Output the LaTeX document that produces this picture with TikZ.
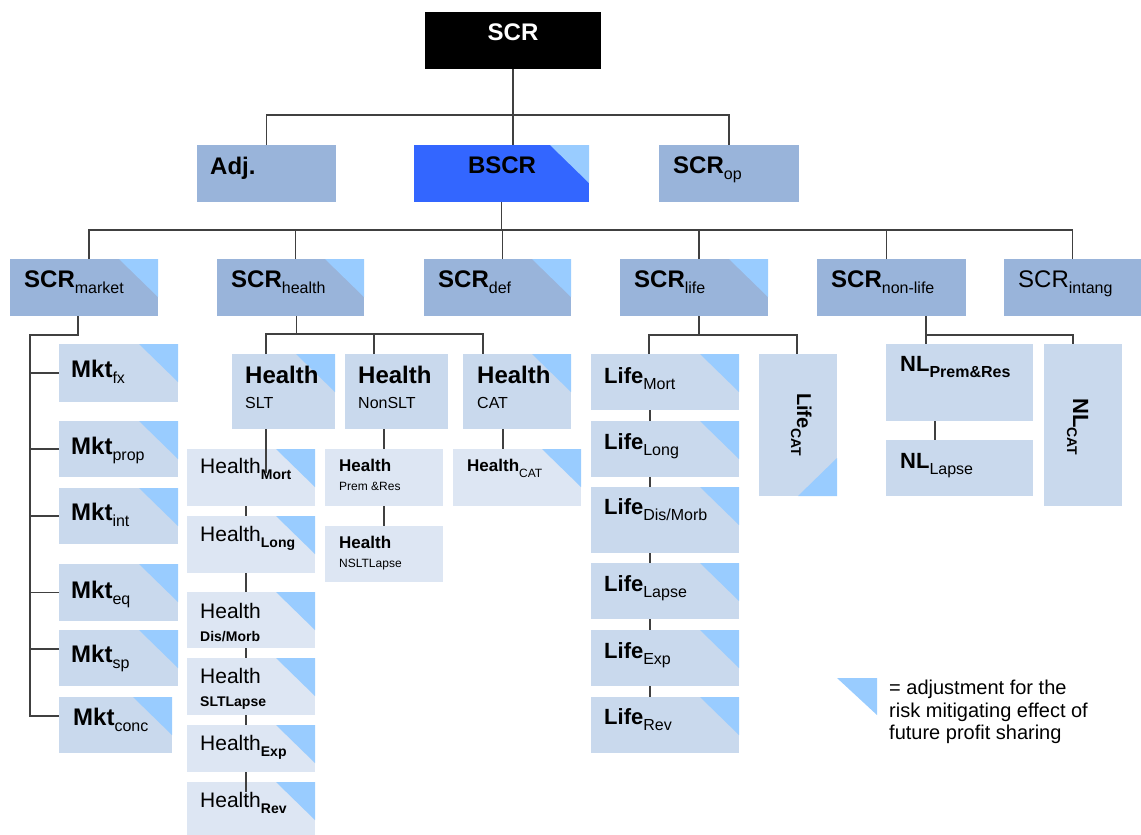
\documentclass[tikz,border=0pt]{standalone}
\usepackage{fontspec}
\setmainfont{Liberation Sans}
\definecolor{lvAcol}{HTML}{99B4DA}
\definecolor{lvBcol}{HTML}{C9D9ED}
\definecolor{lvCcol}{HTML}{DDE6F3}
\definecolor{bscrcol}{HTML}{3366FF}
\definecolor{flagcol}{HTML}{99CCFF}
\definecolor{linkcol}{HTML}{404040}
\newcommand\subt[2][16]{\raisebox{-6pt}{\fontsize{#1}{#1}\mdseries\selectfont #2}}
\begin{document}
\begin{tikzpicture}[x=1pt,y=-1pt,
  bx/.style={rectangle,inner sep=0pt,outer sep=0pt,anchor=north west},
  sz/.style 2 args={minimum width=#1pt,minimum height=#2pt},
  lvA/.style={bx,fill=lvAcol},
  lvB/.style={bx,fill=lvBcol},
  lvC/.style={bx,fill=lvCcol},
  flag/.style={path picture={\fill[flagcol] ([xshift=-39pt]path picture bounding box.north east)--(path picture bounding box.north east)--([yshift=-38pt]path picture bounding box.north east)--cycle;}},
  flagbr/.style={path picture={\fill[flagcol] ([yshift=38pt]path picture bounding box.south east)--(path picture bounding box.south east)--([xshift=-39pt]path picture bounding box.south east)--cycle;}},
  txt/.style={anchor=north west,inner sep=0pt,align=left},
  headtxt/.style={txt,font=\fontsize{24}{25}\selectfont\bfseries},
  lifetxt/.style={txt,font=\fontsize{22}{24}\selectfont\bfseries},
  leaftxt/.style={txt,font=\fontsize{21}{23}\selectfont},
  minitxt/.style={txt,font=\fontsize{17}{19}\selectfont\bfseries},
  link/.style={draw=linkcol,line width=1.3pt}]
\useasboundingbox (0,0) rectangle (1141,835);

% top
\node[bx,fill=black,sz={176}{57}] (scr) at (425,12) {};
\node[headtxt,anchor=north,text=white] (scr-t) at (513,24) {SCR};
\node[lvA,sz={139}{57}] (adj) at (197,145) {};
\node[headtxt] (adj-t) at (210,157) {Adj.};
\node[bx,fill=bscrcol,flag,sz={175}{57}] (bscr) at (414,145) {};
\node[headtxt,anchor=north] (bscr-t) at (502,157) {BSCR};
\node[lvA,sz={140}{57}] (op) at (659,145) {};
\node[headtxt] (op-t) at (673,157) {SCR\subt{op}};

% modules
\node[lvA,flag,sz={148}{57}] (market) at (10,259) {};
\node[headtxt] (market-t) at (24,271) {SCR\subt{market}};
\node[lvA,flag,sz={147}{57}] (health) at (217,259) {};
\node[headtxt] (health-t) at (231,271) {SCR\subt{health}};
\node[lvA,flag,sz={147}{57}] (def) at (424,259) {};
\node[headtxt] (def-t) at (438,271) {SCR\subt{def}};
\node[lvA,flag,sz={148}{57}] (life) at (620,259) {};
\node[headtxt] (life-t) at (634,271) {SCR\subt{life}};
\node[lvA,sz={149}{57}] (nonlife) at (817,259) {};
\node[headtxt] (nonlife-t) at (831,271) {SCR\subt{non-life}};
\node[lvA,sz={137}{57}] (intang) at (1004,259) {};
\node[headtxt,font=\fontsize{24}{25}\selectfont] (intang-t) at (1018,271) {SCR\subt{intang}};

% market
\node[lvB,flag,sz={119}{58}] (mfx) at (59,344) {};
\node[headtxt] (mfx-t) at (71,360) {Mkt\subt{fx}};
\node[lvB,flag,sz={119}{56}] (mprop) at (59,421) {};
\node[headtxt] (mprop-t) at (71,437) {Mkt\subt{prop}};
\node[lvB,flag,sz={119}{56}] (mint) at (59,488) {};
\node[headtxt] (mint-t) at (71,503) {Mkt\subt{int}};
\node[lvB,flag,sz={119}{57}] (meq) at (59,564) {};
\node[headtxt] (meq-t) at (71,581) {Mkt\subt{eq}};
\node[lvB,flag,sz={119}{56}] (msp) at (59,630) {};
\node[headtxt] (msp-t) at (71,645) {Mkt\subt{sp}};
\node[lvB,flag,sz={113}{56}] (mconc) at (59,697) {};
\node[headtxt] (mconc-t) at (73,708) {Mkt\subt{conc}};

% health
\node[lvB,flag,sz={103}{75}] (hslt) at (232,354) {};
\node[headtxt] (hslt-t) at (245,366) {Health\\{\fontsize{16}{16}\mdseries\selectfont SLT}};
\node[lvB,sz={103}{75}] (hnslt) at (345,354) {};
\node[headtxt] (hnslt-t) at (358,366) {Health\\{\fontsize{16}{16}\mdseries\selectfont NonSLT}};
\node[lvB,flag,sz={108}{75}] (hcat) at (463,354) {};
\node[headtxt] (hcat-t) at (477,366) {Health\\{\fontsize{16}{16}\mdseries\selectfont CAT}};

\node[lvC,flag,sz={128}{57}] (hmort) at (187,449) {};
\node[leaftxt] (hmort-t) at (200,458) {Health\subt[14]{\bfseries Mort}};
\node[lvC,flag,sz={128}{57}] (hlong) at (187,516) {};
\node[leaftxt] (hlong-t) at (200,526) {Health\subt[14]{\bfseries Long}};
\node[lvC,flag,sz={128}{56}] (hdis) at (187,592) {};
\node[leaftxt] (hdis-t) at (200,603) {Health\\{\fontsize{14}{14}\bfseries\selectfont Dis/Morb}};
\node[lvC,flag,sz={128}{57}] (hslap) at (187,658) {};
\node[leaftxt] (hslap-t) at (200,668) {Health\\{\fontsize{14}{14}\bfseries\selectfont SLTLapse}};
\node[lvC,flag,sz={128}{47}] (hexp) at (187,725) {};
\node[leaftxt] (hexp-t) at (200,735) {Health\subt[14]{\bfseries Exp}};
\node[lvC,flag,sz={128}{53}] (hrev) at (187,782) {};
\node[leaftxt] (hrev-t) at (200,792) {Health\subt[14]{\bfseries Rev}};

\node[lvC,sz={118}{57}] (hpr) at (325,449) {};
\node[minitxt] (hpr-t) at (339,459) {Health\\{\fontsize{12}{12}\mdseries\selectfont Prem \&Res}};
\node[lvC,sz={118}{56}] (hnl) at (325,526) {};
\node[minitxt] (hnl-t) at (339,536) {Health\\{\fontsize{12}{12}\mdseries\selectfont NSLTLapse}};
\node[lvC,flag,sz={128}{57}] (hcatc) at (453,449) {};
\node[minitxt] (hcatc-t) at (467,459) {Health\subt[12]{CAT}};

% life
\node[lvB,flag,sz={148}{56}] (lmort) at (591,354) {};
\node[lifetxt] (lmort-t) at (604,367) {Life\subt{Mort}};
\node[lvB,flag,sz={148}{56}] (llong) at (591,421) {};
\node[lifetxt] (llong-t) at (604,433) {Life\subt{Long}};
\node[lvB,flag,sz={148}{66}] (ldis) at (591,487) {};
\node[lifetxt] (ldis-t) at (604,498) {Life\subt{Dis/Morb}};
\node[lvB,flag,sz={148}{56}] (llapse) at (591,563) {};
\node[lifetxt] (llapse-t) at (604,575) {Life\subt{Lapse}};
\node[lvB,flag,sz={148}{56}] (lexp) at (591,630) {};
\node[lifetxt] (lexp-t) at (604,642) {Life\subt{Exp}};
\node[lvB,flag,sz={148}{56}] (lrev) at (591,697) {};
\node[lifetxt] (lrev-t) at (604,708) {Life\subt{Rev}};
\node[lvB,flagbr,sz={78}{142}] (lcat) at (759,354) {};
\node[inner sep=0pt,anchor=base west,rotate=-90,font=\fontsize{20}{20}\selectfont\bfseries] (lcat-t) at (797,393) {Life\subt[14]{\bfseries CAT}};

% non-life
\node[lvB,sz={147}{77}] (nlpr) at (886,344) {};
\node[lifetxt] (nlpr-t) at (900,356) {NL\subt{\bfseries Prem\&Res}};
\node[lvB,sz={147}{56}] (nll) at (886,440) {};
\node[lifetxt] (nll-t) at (900,453) {NL\subt{Lapse}};
\node[lvB,sz={78}{162}] (nlcat) at (1044,344) {};
\node[inner sep=0pt,anchor=base west,rotate=-90,font=\fontsize{22}{22}\selectfont\bfseries] (nlcat-t) at (1073,398) {NL\subt[14]{\bfseries CAT}};

% key
\fill[flagcol] (837,678)--(877,678)--(877,715)--cycle;
\node[txt,font=\fontsize{20}{22.5}\selectfont] (key) at (889,680) {= adjustment for the\\risk mitigating effect of\\future profit sharing};

% links
\coordinate (j1) at (513,115);
\coordinate (j2) at (502,230);
\draw[link] (scr.south)--(scr.south |- bscr.north);
\draw[link] (adj.north) |- (j1) -| (op.north);
\draw[link] (bscr.south)--(bscr.south |- j2);
\draw[link] ([xshift=5]market.north) |- (j2) -| (intang.north);
\draw[link] ([xshift=5]health.north)--([xshift=5]health.north |- j2);
\draw[link] ([xshift=5]def.north)--([xshift=5]def.north |- j2);
\draw[link] ([xshift=5]life.north)--([xshift=5]life.north |- j2);
\draw[link] ([xshift=-5]nonlife.north)--([xshift=-5]nonlife.north |- j2);

\coordinate (mk) at (30,335);
\draw[link] ([xshift=-6]market.south) |- (mk) |- ([yshift=9]mconc.west);
\draw[link] (mk |- mfx.west)--(mfx.west);
\draw[link] (mk |- mprop.west)--(mprop.west);
\draw[link] (mk |- mint.west)--(mint.west);
\draw[link] (mk |- meq.west)--(meq.west);
\draw[link] ([yshift=9]mk |- msp.west)--([yshift=9]msp.west);

\draw[link] ([xshift=6]health.south)--++(0,18);
\draw[link] ([xshift=34]hslt.north west)--++(0,-20) -| ([xshift=20]hcat.north west);
\draw[link] ([xshift=29]hnslt.north west)--++(0,-20);
\draw[link] ([xshift=34]hslt.south west)--++(0,44);
\draw[link] ([xshift=59]hmort.south west)--([xshift=59]hlong.north west);
\draw[link] ([xshift=59]hlong.south west)--([xshift=59]hdis.north west);
\draw[link] ([xshift=59]hdis.south west)--([xshift=59]hslap.north west);
\draw[link] ([xshift=59]hslap.south west)--([xshift=59]hexp.north west);
\draw[link] ([xshift=59]hexp.south west)--([xshift=59,yshift=-10]hrev.north west);
\draw[link] ([xshift=39]hnslt.south west)--([xshift=59]hpr.north west);
\draw[link] ([xshift=59]hpr.south west)--([xshift=59]hnl.north west);
\draw[link] ([xshift=40]hcat.south west)--([xshift=50]hcatc.north west);

\draw[link] ([xshift=5]life.south)--++(0,19);
\draw[link] ([xshift=58]lmort.north west)--++(0,-19) -| ([xshift=38]lcat.north west);
\draw[link] ([xshift=59]lmort.south west)--([xshift=59]llong.north west);
\draw[link] ([xshift=59]llong.south west)--([xshift=59]ldis.north west);
\draw[link] ([xshift=59]ldis.south west)--([xshift=59]llapse.north west);
\draw[link] ([xshift=59]llapse.south west)--([xshift=59]lexp.north west);
\draw[link] ([xshift=59]lexp.south west)--([xshift=59]lrev.north west);

\draw[link] ([xshift=40]nlpr.north west |- nonlife.south)--([xshift=40]nlpr.north west);
\draw[link] ([xshift=40,yshift=9]nlpr.north west) -| ([xshift=29]nlcat.north west);
\draw[link] ([xshift=49]nlpr.south west)--([xshift=49]nll.north west);
\end{tikzpicture}
\end{document}
